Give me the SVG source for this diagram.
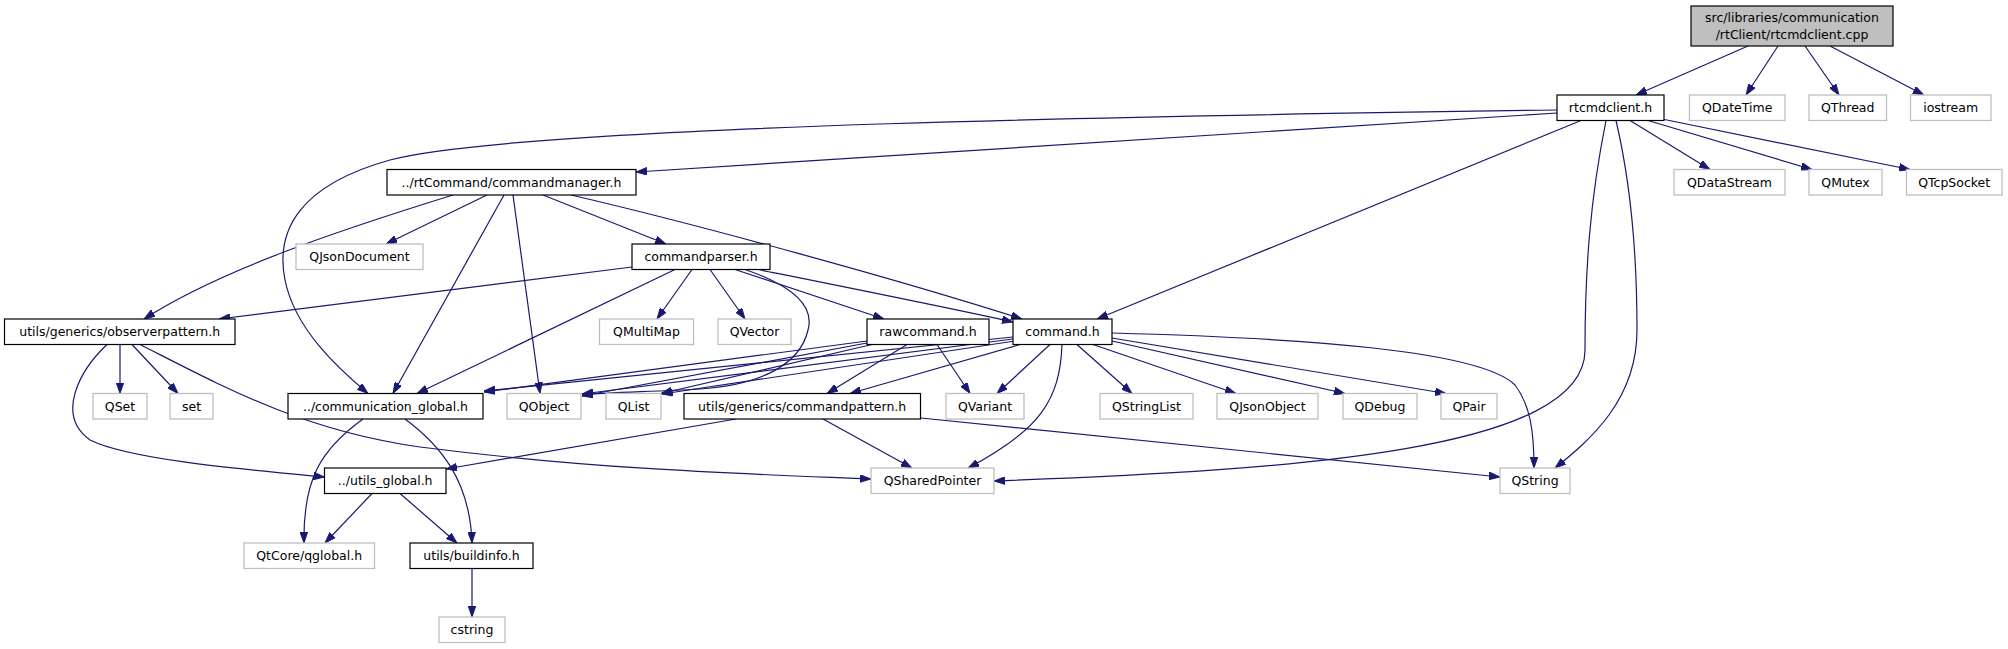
<svg xmlns="http://www.w3.org/2000/svg" width="2008" height="649" viewBox="0 0 2008 649">
<defs>
<style>
.n rect{fill:#ffffff;stroke:#000000;stroke-width:1.2}
.x rect{fill:#ffffff;stroke:#bfbfbf;stroke-width:1.3}
.r rect{fill:#bfbfbf;stroke:#000000;stroke-width:1.2}
text{font-family:"DejaVu Sans","Liberation Sans",sans-serif;font-size:12.5px;fill:#000000;text-anchor:middle}
#edges path{fill:none;stroke:#191970;stroke-width:1.2;marker-end:url(#ah)}
</style>
<marker id="ah" markerUnits="userSpaceOnUse" markerWidth="11" markerHeight="8" refX="10" refY="3.5" orient="auto" viewBox="0 0 10 7">
<path d="M0,0 L10,3.5 L0,7 z" fill="#191970" stroke="#191970" stroke-width="0.8"/>
</marker>
</defs>
<rect width="2008" height="649" fill="#ffffff"/>
<g id="edges">
<path d="M1748,46 L1636,95"/>
<path d="M1778,46 L1746,95"/>
<path d="M1805,46 L1839,95"/>
<path d="M1830,46 L1924,95"/>
<path d="M1630,120.5 L1710,169.5"/>
<path d="M1648,120.5 L1812,169.5"/>
<path d="M1662,119 L1910,169.5"/>
<path d="M1557,113 L636,172"/>
<path d="M1557,110 C1200,115 520,125 390,160 C300,185 275,230 285,280 C295,330 340,370 368,393.5"/>
<path d="M1581,120.5 L1097,319"/>
<path d="M1606,120.5 C1590,200 1585,270 1585,350 C1585,450 1300,470 994,481"/>
<path d="M1616,120.5 C1630,180 1637,250 1637,330 C1637,400 1590,440 1555,468"/>
<path d="M453,195 C340,230 220,270 144,319"/>
<path d="M487,195 L386,244"/>
<path d="M504,195 L393,393.5"/>
<path d="M513,195 L540,393.5"/>
<path d="M543,195 L666,244"/>
<path d="M571,195 C700,225 900,280 1022,319"/>
<path d="M758,269.5 C850,288 950,308 1013,322"/>
<path d="M735,269.5 L884,319"/>
<path d="M692,269.5 L657,319"/>
<path d="M710,269.5 L745,319"/>
<path d="M632,267 L219,319"/>
<path d="M675,269.5 L417,393.5"/>
<path d="M745,269.5 C790,285 815,305 808,330 C800,365 760,385 700,389 C650,392 610,392 582,395"/>
<path d="M867,341 L484,392"/>
<path d="M867,343 L582,396"/>
<path d="M872,344.5 L661,393.5"/>
<path d="M907,344.5 L827,393.5"/>
<path d="M937,344.5 L970,393.5"/>
<path d="M1013,337 L484,391"/>
<path d="M1013,339 L582,394"/>
<path d="M1015,341 L662,394"/>
<path d="M1020,344.5 L850,393.5"/>
<path d="M1050,344.5 L997,393.5"/>
<path d="M1062,344.5 C1060,400 1040,430 968,468"/>
<path d="M1077,344.5 L1132,393.5"/>
<path d="M1093,344.5 L1236,393.5"/>
<path d="M1112,341 L1345,393.5"/>
<path d="M1112,338 L1446,393.5"/>
<path d="M1112,333 C1300,338 1480,350 1515,385 C1530,405 1534,430 1534,468"/>
<path d="M120,344.5 L120,393.5"/>
<path d="M132,344.5 L178,393.5"/>
<path d="M107,344.5 C80,370 55,415 90,440 C130,460 250,470 324.5,477"/>
<path d="M140,344.5 C220,385 300,430 420,447 C600,470 750,474 871,479"/>
<path d="M363,419 C320,450 303,480 304,543"/>
<path d="M405,419 C440,445 470,480 472,543"/>
<path d="M736,419 L446,469"/>
<path d="M823,419 L912,468"/>
<path d="M921,418 L1500,477"/>
<path d="M372,493.5 L325,543"/>
<path d="M400,493.5 L457,543"/>
<path d="M472,568.5 L472,617"/>
</g>
<g id="root" class="r"><rect x="1691" y="6" width="202" height="40"/><text x="1792" y="22">src/libraries/communication</text><text x="1792" y="39">/rtClient/rtcmdclient.cpp</text></g>
<g id="rtcmdclient_h" class="n"><rect x="1557" y="95" width="107" height="25.5"/><text x="1610.5" y="112">rtcmdclient.h</text></g>
<g id="QDateTime" class="x"><rect x="1689.5" y="95" width="95.5" height="25.5"/><text x="1737.2" y="112">QDateTime</text></g>
<g id="QThread" class="x"><rect x="1809" y="95" width="77.5" height="25.5"/><text x="1847.7" y="112">QThread</text></g>
<g id="iostream" class="x"><rect x="1910.5" y="95" width="80.5" height="25.5"/><text x="1950.7" y="112">iostream</text></g>
<g id="commandmanager_h" class="n"><rect x="387" y="169.5" width="249" height="25.5"/><text x="511.5" y="186.5">../rtCommand/commandmanager.h</text></g>
<g id="QDataStream" class="x"><rect x="1674" y="169.5" width="111" height="25.5"/><text x="1729.5" y="186.5">QDataStream</text></g>
<g id="QMutex" class="x"><rect x="1809" y="169.5" width="73" height="25.5"/><text x="1845.5" y="186.5">QMutex</text></g>
<g id="QTcpSocket" class="x"><rect x="1906.5" y="169.5" width="95.5" height="25.5"/><text x="1954.2" y="186.5">QTcpSocket</text></g>
<g id="QJsonDocument" class="x"><rect x="296" y="244" width="127" height="25.5"/><text x="359.5" y="261">QJsonDocument</text></g>
<g id="commandparser_h" class="n"><rect x="632" y="244" width="138" height="25.5"/><text x="701" y="261">commandparser.h</text></g>
<g id="observerpattern_h" class="n"><rect x="4.5" y="319" width="230.5" height="25.5"/><text x="119.7" y="336">utils/generics/observerpattern.h</text></g>
<g id="QMultiMap" class="x"><rect x="599.5" y="319" width="94" height="25.5"/><text x="646.5" y="336">QMultiMap</text></g>
<g id="QVector" class="x"><rect x="718" y="319" width="73" height="25.5"/><text x="754.5" y="336">QVector</text></g>
<g id="rawcommand_h" class="n"><rect x="867" y="319" width="122" height="25.5"/><text x="928" y="336">rawcommand.h</text></g>
<g id="command_h" class="n"><rect x="1013" y="319" width="99" height="25.5"/><text x="1062.5" y="336">command.h</text></g>
<g id="QSet" class="x"><rect x="93" y="393.5" width="54" height="25.5"/><text x="120" y="410.5">QSet</text></g>
<g id="set" class="x"><rect x="170" y="393.5" width="43" height="25.5"/><text x="191.5" y="410.5">set</text></g>
<g id="communication_global_h" class="n"><rect x="288" y="393.5" width="195" height="25.5"/><text x="385.5" y="410.5">../communication_global.h</text></g>
<g id="QObject" class="x"><rect x="507" y="393.5" width="74" height="25.5"/><text x="544" y="410.5">QObject</text></g>
<g id="QList" class="x"><rect x="606" y="393.5" width="55" height="25.5"/><text x="633.5" y="410.5">QList</text></g>
<g id="commandpattern_h" class="n"><rect x="684" y="393.5" width="236.5" height="25.5"/><text x="802.2" y="410.5">utils/generics/commandpattern.h</text></g>
<g id="QVariant" class="x"><rect x="946" y="393.5" width="78" height="25.5"/><text x="985" y="410.5">QVariant</text></g>
<g id="QStringList" class="x"><rect x="1100" y="393.5" width="93" height="25.5"/><text x="1146.5" y="410.5">QStringList</text></g>
<g id="QJsonObject" class="x"><rect x="1217" y="393.5" width="101" height="25.5"/><text x="1267.5" y="410.5">QJsonObject</text></g>
<g id="QDebug" class="x"><rect x="1343" y="393.5" width="74" height="25.5"/><text x="1380" y="410.5">QDebug</text></g>
<g id="QPair" class="x"><rect x="1441" y="393.5" width="56" height="25.5"/><text x="1469" y="410.5">QPair</text></g>
<g id="utils_global_h" class="n"><rect x="324.5" y="468" width="121.5" height="25.5"/><text x="385.2" y="485">../utils_global.h</text></g>
<g id="QSharedPointer" class="x"><rect x="871" y="468" width="123" height="25.5"/><text x="932.5" y="485">QSharedPointer</text></g>
<g id="QString" class="x"><rect x="1500" y="468" width="70" height="25.5"/><text x="1535" y="485">QString</text></g>
<g id="qglobal_h" class="x"><rect x="244" y="543" width="130.5" height="25.5"/><text x="309.2" y="560">QtCore/qglobal.h</text></g>
<g id="buildinfo_h" class="n"><rect x="410" y="543" width="123" height="25.5"/><text x="471.5" y="560">utils/buildinfo.h</text></g>
<g id="cstring" class="x"><rect x="439" y="617" width="66" height="25.5"/><text x="472" y="634">cstring</text></g>
</svg>
